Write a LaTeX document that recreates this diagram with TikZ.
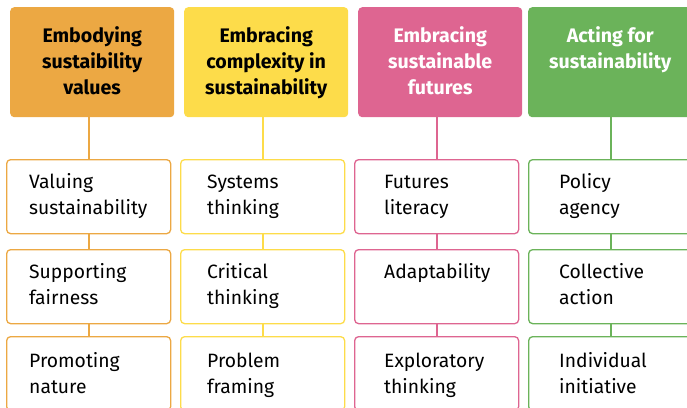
\documentclass[tikz,border=0pt]{standalone}
\usepackage{fontspec}
\setmainfont{Fira Sans}
\usetikzlibrary{calc}
\definecolor{cO}{HTML}{ECA843}
\definecolor{cY}{HTML}{FDDC4A}
\definecolor{cP}{HTML}{DE6591}
\definecolor{cG}{HTML}{6BB35A}
\begin{document}
\begin{tikzpicture}[x=1pt,y=-1pt,
 head/.style={draw=none, fill=#1, rounded corners=4pt, minimum width=164pt, minimum height=110pt, anchor=north west, inner sep=0pt},
 cbox/.style={draw=#1, line width=1.3pt, fill=white, rounded corners=4pt, minimum width=164pt, minimum height=74pt, anchor=north west, inner sep=0pt},
 htext/.style={font=\fontsize{19.6}{26}\selectfont\bfseries, align=center, anchor=base, text=#1, inner sep=0pt},
 ctext/.style={font=\fontsize{19.3}{26}\selectfont, align=left, anchor=base west, inner sep=0pt},
 link/.style={draw=#1, line width=1.8pt}]
\useasboundingbox (0,0) rectangle (687,407);
\clip (0,0) rectangle (687,407);
% headers
\node[head=cO] (hO) at (10,7) {};
\node[head=cY] (hY) at (184,7) {};
\node[head=cP] (hP) at (358,7) {};
\node[head=cG] (hG) at (528,7) {};
% children
\node[cbox=cO] (o1) at (6,159) {};
\node[cbox=cO] (o2) at (6,249) {};
\node[cbox=cO] (o3) at (6,336) {};
\node[cbox=cY] (y1) at (180,159) {};
\node[cbox=cY] (y2) at (180,249) {};
\node[cbox=cY] (y3) at (180,336) {};
\node[cbox=cP] (p1) at (354,159) {};
\node[cbox=cP] (p2) at (354,249) {};
\node[cbox=cP] (p3) at (354,336) {};
\node[cbox=cG] (g1) at (528,159) {};
\node[cbox=cG] (g2) at (528,249) {};
\node[cbox=cG] (g3) at (528,336) {};
% connectors
\foreach \c/\h/\col in {o/hO/cO, y/hY/cY, p/hP/cP, g/hG/cG}{
  \draw[link=\col] (\c1.north) -- (\c1.north |- \h.south);
  \draw[link=\col] (\c1.south) -- (\c2.north);
  \draw[link=\col] (\c2.south) -- (\c3.north);
}
% header texts (base anchor = last line's baseline)
\node[htext=black] (tO) at ($(hO.north)+(0,87)$) {Embodying\\sustaibility\\values};
\node[htext=black] (tY) at ($(hY.north)+(0,87)$) {Embracing\\complexity in\\sustainability};
\node[htext=white] (tP) at ($(hP.north)+(0,87)$) {Embracing\\sustainable\\futures};
\node[htext=white] (tG) at ($(hG.north)+(0,61)$) {Acting for\\sustainability};
% child texts
\node[ctext] (to1) at ($(o1.north west)+(23,55)$) {Valuing\\sustainability};
\node[ctext] (to2) at ($(o2.north west)+(23,55)$) {Supporting\\fairness};
\node[ctext] (to3) at ($(o3.north west)+(23,57)$) {Promoting\\nature};
\node[ctext] (ty1) at ($(y1.north west)+(27,55)$) {Systems\\thinking};
\node[ctext] (ty2) at ($(y2.north west)+(27,55)$) {Critical\\thinking};
\node[ctext] (ty3) at ($(y3.north west)+(27,57)$) {Problem\\framing};
\node[ctext] (tp1) at ($(p1.north west)+(30,55)$) {Futures\\literacy};
\node[ctext] (tp2) at ($(p2.north west)+(30,29)$) {Adaptability};
\node[ctext] (tp3) at ($(p3.north west)+(30,57)$) {Exploratory\\thinking};
\node[ctext] (tg1) at ($(g1.north west)+(31,55)$) {Policy\\agency};
\node[ctext] (tg2) at ($(g2.north west)+(31,55)$) {Collective\\action};
\node[ctext] (tg3) at ($(g3.north west)+(31,57)$) {Individual\\initiative};
\end{tikzpicture}
\end{document}
